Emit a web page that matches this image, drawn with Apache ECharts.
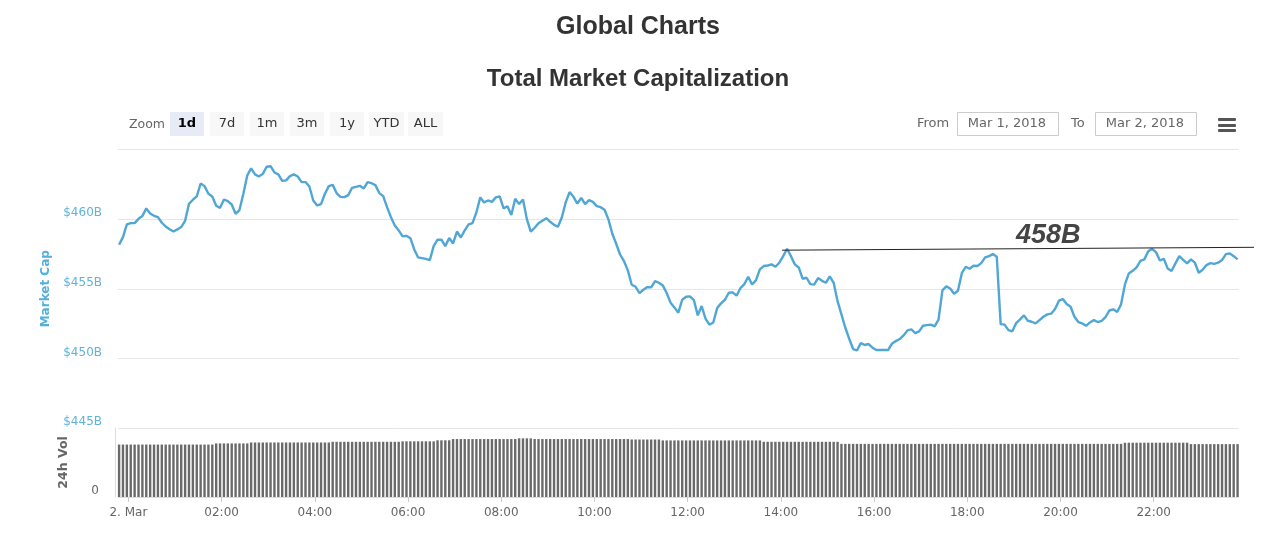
<!DOCTYPE html>
<html lang="en">
<head>
    <meta charset="UTF-8">
    <title>Global Charts</title>
    <script src="https://cdn.jsdelivr.net/npm/echarts@6/dist/echarts.min.js"></script>
    <style>
        html, body {margin: 0; padding: 0; background: #fff;}
    </style>
</head>
<body>
<div id="main" style="width: 1280px;height:546px;"></div>
<script>
    // readings every 5 minutes, first one at 23:48 on 1 Mar
    var startTime = new Date(2018, 2, 1, 23, 48, 0).getTime();
    var stepMs = 5 * 60 * 1000;

    // market cap in $B
    var marketCap = [
        458.16, 458.71, 459.62, 459.71, 459.71, 460.02, 460.22, 460.77, 460.41, 460.24, 460.14, 459.74,
        459.47, 459.28, 459.11, 459.26, 459.43, 459.88, 461.10, 461.39, 461.63, 462.56, 462.37, 461.82,
        461.63, 460.96, 460.81, 461.41, 461.29, 461.05, 460.38, 460.65, 461.82, 463.13, 463.64, 463.21,
        463.06, 463.25, 463.76, 463.80, 463.35, 463.21,
        462.75, 462.78, 463.09, 463.21, 463.06, 462.66, 462.66, 462.34, 461.34, 460.98, 461.08, 461.82,
        462.37, 462.46, 461.87, 461.60, 461.58, 461.72, 462.25, 462.32, 462.39, 462.20, 462.66, 462.58,
        462.44, 461.87, 461.65, 460.86, 460.14, 459.55, 459.19, 458.76, 458.80, 458.63, 457.82, 457.25,
        457.20, 457.15, 457.06, 458.06, 458.52,
        458.52, 458.06, 458.64, 458.25, 459.11, 458.68, 459.19, 459.62, 459.71, 460.48, 461.56, 461.20,
        461.34, 461.24, 461.56, 461.63, 460.77, 460.93, 460.29, 461.46, 461.08, 461.41, 460.00, 459.11,
        459.38, 459.71, 459.88, 460.07, 459.81, 459.59, 459.45, 460.12, 461.20, 461.94, 461.60, 461.12,
        461.53, 461.08, 461.36, 461.24, 460.93,
        460.86, 460.67, 459.98, 458.95, 458.23, 457.46, 456.99, 456.32, 455.29, 455.14, 454.69, 454.93,
        455.12, 455.10, 455.55, 455.43, 455.24, 454.69, 454.00, 453.66, 453.28, 454.21, 454.43, 454.45,
        454.19, 453.09, 453.76, 452.85, 452.42, 452.58, 453.61, 453.95, 454.21, 454.71, 454.74, 454.50,
        455.05, 455.33, 455.86, 455.31, 455.62, 456.39,
        456.63, 456.67, 456.75, 456.58, 456.87, 457.34, 457.87, 457.34, 456.75, 456.53, 455.72, 455.79,
        455.33, 455.31, 455.77, 455.57, 455.43, 455.89, 455.43, 454.11, 453.16, 452.20, 451.41, 450.67,
        450.57, 451.10, 450.96, 451.03, 450.77, 450.60, 450.60, 450.60, 450.60, 451.05, 451.24, 451.39,
        451.65, 452.01, 452.08, 451.82, 451.94,
        452.34, 452.39, 452.42, 452.30, 452.78, 454.88, 455.17, 455.02, 454.64, 454.86, 456.12, 456.58,
        456.44, 456.65, 456.63, 456.84, 457.25, 457.34, 457.49, 457.30, 452.46, 452.42, 452.03, 451.94,
        452.54, 452.80, 453.09, 452.70, 452.63, 452.51, 452.75, 452.99, 453.16, 453.21, 453.54, 454.14,
        454.26, 453.90, 453.71, 452.99, 452.61,
        452.51, 452.34, 452.58, 452.75, 452.61, 452.70, 452.97, 453.44, 453.52, 453.33, 453.88, 455.31,
        456.10, 456.29, 456.53, 457.01, 457.11, 457.70, 457.87, 457.63, 457.03, 457.15, 456.46, 456.27,
        456.82, 457.34, 457.08, 456.82, 457.11, 456.87, 456.15, 456.36, 456.70, 456.84, 456.79, 456.87,
        457.06, 457.49, 457.54, 457.34, 457.11
    ];

    // 24h volume in $B
    var volume = [
        22.8, 22.8, 22.8, 22.8, 22.8, 22.8, 22.8, 22.8, 22.8, 22.8, 22.8, 22.8, 22.8, 22.8, 22.8, 22.8, 22.8, 22.8, 22.8, 22.8, 22.8, 22.8, 22.8, 22.8, 22.8,
        23.3, 23.3, 23.3, 23.3, 23.3, 23.3, 23.3, 23.3, 23.3,
        23.7, 23.7, 23.7, 23.7, 23.7, 23.7, 23.7, 23.7, 23.7, 23.7, 23.7, 23.7, 23.7, 23.7, 23.7, 23.7, 23.7, 23.7, 23.7, 23.7, 23.7,
        24.0, 24.0, 24.0, 24.0, 24.0, 24.0, 24.0, 24.0, 24.0, 24.0, 24.0, 24.0, 24.0, 24.0, 24.0, 24.0, 24.0, 24.0,
        24.2, 24.2, 24.2, 24.2, 24.2, 24.2, 24.2, 24.2, 24.2,
        24.65, 24.65, 24.65, 24.65,
        25.2, 25.2, 25.2, 25.2, 25.2, 25.2, 25.2, 25.2, 25.2, 25.2, 25.2, 25.2, 25.2, 25.2, 25.2, 25.2, 25.2,
        25.5, 25.5, 25.5, 25.5,
        25.2, 25.2, 25.2, 25.2, 25.2, 25.2, 25.2, 25.2, 25.2, 25.2, 25.2, 25.2, 25.2, 25.2, 25.2, 25.2, 25.2, 25.2, 25.2, 25.2, 25.2, 25.2, 25.2, 25.2, 25.2,
        25.0, 25.0, 25.0, 25.0, 25.0, 25.0, 25.0, 25.0,
        24.6, 24.6, 24.6, 24.6, 24.6, 24.6, 24.6, 24.6, 24.6, 24.6, 24.6, 24.6, 24.6, 24.6, 24.6, 24.6, 24.6, 24.6, 24.6, 24.6, 24.6, 24.6, 24.6, 24.6, 24.6, 24.6,
        24.0, 24.0, 24.0, 24.0, 24.0, 24.0, 24.0, 24.0, 24.0, 24.0, 24.0, 24.0, 24.0, 24.0, 24.0, 24.0, 24.0, 24.0, 24.0, 24.0,
        23.1, 23.1, 23.1, 23.1, 23.1, 23.1, 23.1, 23.1, 23.1, 23.1, 23.1, 23.1, 23.1, 23.1, 23.1, 23.1, 23.1, 23.1, 23.1, 23.1, 23.1, 23.1, 23.1, 23.1, 23.1,
        23.1, 23.1, 23.1, 23.1, 23.1, 23.1, 23.1, 23.1, 23.1, 23.1, 23.1, 23.1, 23.1, 23.1, 23.1, 23.1, 23.1, 23.1, 23.1, 23.1, 23.1, 23.1, 23.1, 23.1, 23.1,
        23.1, 23.1, 23.1, 23.1, 23.1, 23.1, 23.1, 23.1, 23.1, 23.1, 23.1, 23.1, 23.1, 23.1, 23.1, 23.1, 23.1, 23.1, 23.1, 23.1, 23.1, 23.1, 23.1,
        23.6, 23.6, 23.6, 23.6, 23.6, 23.6, 23.6, 23.6, 23.6, 23.6, 23.6, 23.6, 23.6, 23.6, 23.6, 23.6, 23.6,
        23.0, 23.0, 23.0, 23.0, 23.0, 23.0, 23.0, 23.0, 23.0, 23.0, 23.0, 23.0, 23.0
    ];

    var tickHours = [0, 2, 4, 6, 8, 10, 12, 14, 16, 18, 20, 22];
    var zoomButtons = ['1d', '7d', '1m', '3m', '1y', 'YTD', 'ALL'];
    var buttonLeft = [170, 210, 250, 290, 330, 369, 408];
    var fromDate = 'Mar 1, 2018';
    var toDate = 'Mar 2, 2018';

    var uiFont = '"DejaVu Sans", sans-serif';
    var axisMin = new Date(2018, 2, 1, 23, 46, 36).getTime();
    var axisMax = new Date(2018, 2, 2, 23, 49, 12).getTime();

    var tickTimes = tickHours.map(function (h) {
        return new Date(2018, 2, 2, h, 0, 0).getTime();
    });
    var capData = marketCap.map(function (item, i) {
        return [startTime + i * stepMs, item];
    });
    var volData = volume.map(function (item, i) {
        return [startTime + i * stepMs, item];
    });

    function pad(n) {
        return n < 10 ? '0' + n : '' + n;
    }

    // toolbar above the plot
    var graphics = [
        {type: 'text', left: 129, top: 118, style: {text: 'Zoom', font: '12.5px ' + uiFont, fill: '#666'}}
    ];
    zoomButtons.forEach(function (name, i) {
        var w = i >= 5 ? 35 : 34;
        graphics.push({
            type: 'rect',
            shape: {x: buttonLeft[i], y: 112, width: w, height: 24},
            style: {fill: i === 0 ? '#e6ebf5' : '#f7f7f7'}
        });
        graphics.push({
            type: 'text',
            x: buttonLeft[i] + w / 2,
            y: 124,
            style: {
                text: name,
                font: (i === 0 ? 'bold ' : '') + '13px ' + uiFont,
                fill: i === 0 ? '#000' : '#333',
                align: 'center',
                verticalAlign: 'middle'
            }
        });
    });
    graphics.push({type: 'text', left: 917, top: 117, style: {text: 'From', font: '13px ' + uiFont, fill: '#666'}});
    graphics.push({type: 'text', left: 1071, top: 117, style: {text: 'To', font: '13px ' + uiFont, fill: '#666'}});
    [[957, fromDate], [1095, toDate]].forEach(function (box) {
        graphics.push({
            type: 'rect',
            shape: {x: box[0] + 0.5, y: 112.5, width: 101, height: 23},
            style: {fill: '#fff', stroke: '#ccc', lineWidth: 1}
        });
        graphics.push({
            type: 'text',
            x: box[0] + 50,
            y: 124,
            style: {text: box[1], font: '13px ' + uiFont, fill: '#666', align: 'center', verticalAlign: 'middle'}
        });
    });
    [118, 124, 129].forEach(function (y) {
        graphics.push({
            type: 'rect',
            shape: {x: 1218, y: y, width: 18, height: 3, r: 1},
            style: {fill: '#555'}
        });
    });
    graphics.push({
        type: 'text',
        left: 1016,
        top: 222,
        style: {text: '458B', font: 'italic bold 27px "Liberation Sans", sans-serif', fill: '#444'}
    });

    var myChart = echarts.init(document.getElementById('main'));
    var option = {
        animation: false,
        title: [{
            text: 'Global Charts',
            left: 633,
            top: 10,
            textAlign: 'center',
            textStyle: {fontFamily: '"Liberation Sans"', fontSize: 25, fontWeight: 'bold', color: '#333'}
        }, {
            text: 'Total Market Capitalization',
            left: 633,
            top: 62,
            textAlign: 'center',
            textStyle: {fontFamily: '"Liberation Sans"', fontSize: 24, fontWeight: 'bold', color: '#333'}
        }],
        graphic: graphics,
        grid: [
            {left: 118, top: 149.5, width: 1120.5, height: 278.5},
            {left: 118, top: 428, width: 1120.5, height: 69}
        ],
        xAxis: [{
            type: 'value',
            gridIndex: 0,
            min: axisMin,
            max: axisMax,
            axisLine: {show: false},
            axisTick: {show: false},
            axisLabel: {show: false},
            splitLine: {show: false}
        }, {
            type: 'value',
            gridIndex: 1,
            min: axisMin,
            max: axisMax,
            axisLine: {lineStyle: {color: '#ddd'}},
            axisTick: {length: 5, customValues: tickTimes, lineStyle: {color: '#ccc'}},
            minorTick: {show: false},
            splitLine: {show: false},
            axisLabel: {
                customValues: tickTimes,
                hideOverlap: false,
                margin: 10,
                fontFamily: uiFont,
                fontSize: 12,
                color: '#666',
                formatter: function (value) {
                    var d = new Date(value);
                    return d.getHours() === 0 ? '2. Mar' : pad(d.getHours()) + ':00';
                }
            }
        }],
        yAxis: [{
            type: 'value',
            gridIndex: 0,
            min: 445,
            max: 465,
            interval: 5,
            name: 'Market Cap',
            nameLocation: 'middle',
            nameGap: 59,
            nameTextStyle: {fontFamily: uiFont, fontSize: 12, fontWeight: 'bold', color: '#55aedb'},
            axisLine: {show: false},
            axisTick: {show: false},
            splitLine: {lineStyle: {color: '#e6e6e6'}},
            axisLabel: {
                showMaxLabel: false,
                margin: 16,
                verticalAlign: 'bottom',
                lineHeight: 12,
                fontFamily: uiFont,
                fontSize: 12,
                color: '#5fb3dc',
                formatter: function (value) {
                    return '$' + value + 'B';
                }
            }
        }, {
            type: 'value',
            gridIndex: 1,
            min: 0,
            max: 30,
            interval: 30,
            offset: 3,
            name: '24h Vol',
            nameLocation: 'middle',
            nameGap: 45,
            nameTextStyle: {fontFamily: uiFont, fontSize: 12.5, fontWeight: 'bold', color: '#666'},
            axisLine: {show: true, lineStyle: {color: '#ddd'}},
            axisTick: {show: false},
            splitLine: {show: false},
            axisLabel: {
                margin: 16,
                verticalAlign: 'bottom',
                lineHeight: 12,
                fontFamily: uiFont,
                fontSize: 12,
                color: '#666',
                formatter: function (value) {
                    return value === 0 ? '0' : '';
                }
            }
        }],
        series: [{
            name: 'Market Cap',
            type: 'line',
            xAxisIndex: 0,
            yAxisIndex: 0,
            showSymbol: false,
            lineStyle: {width: 2.4, color: '#50a6d4'},
            data: capData,
            markLine: {
                silent: true,
                symbol: 'none',
                animation: false,
                label: {show: false},
                lineStyle: {type: 'solid', width: 1, color: '#222'},
                data: [[
                    {coord: [new Date(2018, 2, 2, 14, 1, 30).getTime(), 457.77]},
                    {x: 1254, y: 247.3}
                ]]
            }
        }, {
            name: '24h Vol',
            type: 'bar',
            xAxisIndex: 1,
            yAxisIndex: 1,
            barWidth: 2.4,
            itemStyle: {color: '#6a6a6a'},
            data: volData
        }]
    };
    myChart.setOption(option);
</script>
</body>
</html>
